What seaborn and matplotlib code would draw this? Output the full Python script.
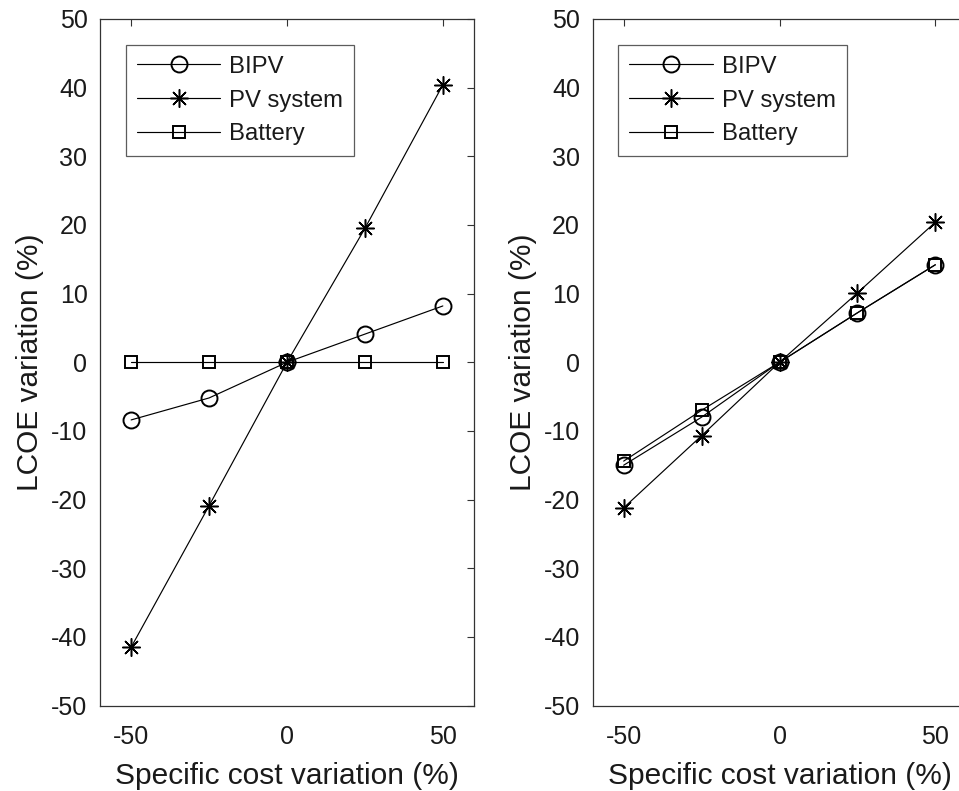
import matplotlib
matplotlib.use("Agg")
import matplotlib.pyplot as plt
import seaborn as sns
import pandas as pd

sns.set_theme(style="white")
plt.rcParams['font.family'] = ['Liberation Sans', 'DejaVu Sans']
plt.rcParams['axes.unicode_minus'] = False

cost_variation = [-50, -25, 0, 25, 50]

# LCOE sensitivity, first case
bipv_a = [-8.4, -5.2, 0.0, 4.1, 8.2]
pv_a = [-41.5, -20.9, 0.0, 19.5, 40.4]
battery_a = [0.0, 0.0, 0.0, 0.0, 0.0]

# LCOE sensitivity, second case
bipv_b = [-15.0, -8.0, 0.0, 7.2, 14.2]
pv_b = [-21.2, -10.7, 0.0, 10.1, 20.4]
battery_b = [-14.4, -7.0, 0.0, 7.2, 14.2]

series_names = ["BIPV", "PV system", "Battery"]
markers = ["o", (8, 2, 0), "s"]
marker_sizes = [11.5, 13, 9]
edge_widths = [1.4, 1.1, 1.4]

y_ticks = [-50, -40, -30, -20, -10, 0, 10, 20, 30, 40, 50]
x_ticks = [-50, 0, 50]

fig = plt.figure(figsize=(9.59, 7.91), dpi=100)
W, H = 959, 791
ax_w = 374 / W
ax_h = 686.5 / H
ax_bottom = 1 - 705.5 / H
ax1 = fig.add_axes([100 / W, ax_bottom, ax_w, ax_h])
ax2 = fig.add_axes([592.5 / W, ax_bottom, ax_w, ax_h])

text_color = "#1a1a1a"


def draw(ax, datasets):
    for name, vals, mk, ms, ew in zip(series_names, datasets, markers,
                                      marker_sizes, edge_widths):
        df = pd.DataFrame({"x": cost_variation, "y": vals})
        sns.lineplot(data=df, x="x", y="y", ax=ax, color="black",
                     linewidth=0.85, marker=mk, markersize=ms,
                     markerfacecolor="none", markeredgecolor="black",
                     markeredgewidth=ew, label=name)
    ax.set_xlim(-60, 60)
    ax.set_ylim(-50, 50)
    ax.set_xticks(x_ticks)
    ax.set_yticks(y_ticks)
    ax.tick_params(axis="both", which="both", direction="in", length=5,
                   width=0.8, color="#333333", labelsize=18,
                   top=True, right=True, labelcolor=text_color)
    ax.tick_params(axis="x", pad=14)
    ax.tick_params(axis="y", pad=9)
    for sp in ax.spines.values():
        sp.set_color("#333333")
        sp.set_linewidth(0.9)
    ax.set_xlabel("Specific cost variation (%)", fontsize=21.5, color=text_color, labelpad=9.5)
    ax.set_ylabel("LCOE variation (%)", fontsize=21.5, color=text_color, labelpad=5)
    leg = ax.legend(loc="upper left", bbox_to_anchor=(0.0695, 0.962),
                    fontsize=17.2, frameon=True, fancybox=False,
                    edgecolor="#333333", handlelength=3.5,
                    borderpad=0.45, labelspacing=0.49, handletextpad=0.38,
                    borderaxespad=0)
    leg.get_frame().set_linewidth(0.9)
    for t in leg.get_texts():
        t.set_color(text_color)
    for line in leg.get_lines():
        line.set_linewidth(0.85)


draw(ax1, [bipv_a, pv_a, battery_a])
draw(ax2, [bipv_b, pv_b, battery_b])

fig.savefig("out.png", dpi=100, facecolor="white")
